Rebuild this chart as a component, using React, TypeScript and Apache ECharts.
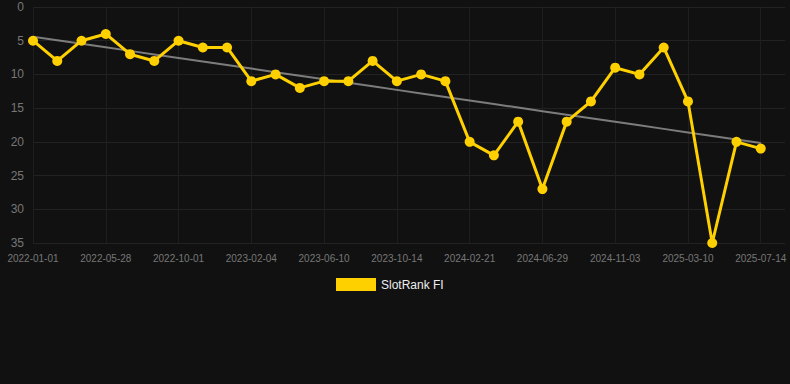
import React, { useEffect, useRef } from "react";
import * as echarts from "echarts";

const dates: string[] = [
  "2022-01-01", "2022-02-19", "2022-04-09", "2022-05-28", "2022-07-09", "2022-08-20",
  "2022-10-01", "2022-11-12", "2022-12-24", "2023-02-04", "2023-03-18", "2023-04-29",
  "2023-06-10", "2023-07-22", "2023-09-02", "2023-10-14", "2023-11-25", "2024-01-08",
  "2024-02-21", "2024-04-03", "2024-05-16", "2024-06-29", "2024-08-11", "2024-09-22",
  "2024-11-03", "2024-12-15", "2025-01-27", "2025-03-10", "2025-04-21", "2025-06-02",
  "2025-07-14",
];

const ranks: number[] = [
  5, 8, 5, 4, 7, 8, 5, 6, 6, 11, 10, 12, 11, 11, 8, 11, 10, 11, 20, 22, 17, 27, 17, 14,
  9, 10, 6, 14, 35, 20, 21,
];

const seriesName = "SlotRank FI";

function trend(values: number[]): number[] {
  const n = values.length;
  const mx = (n - 1) / 2;
  const my = values.reduce((a, b) => a + b, 0) / n;
  let sxy = 0;
  let sxx = 0;
  values.forEach((v, i) => {
    sxy += (i - mx) * (v - my);
    sxx += (i - mx) * (i - mx);
  });
  const slope = sxy / sxx;
  const b = my - slope * mx;
  return values.map((_, i) => +(b + slope * i).toFixed(3));
}

export default function App() {
  const ref = useRef<HTMLDivElement>(null);
  useEffect(() => {
    document.body.style.margin = "0";
    document.body.style.background = "#111111";
    if (!ref.current) return;
    const chart = echarts.init(ref.current, undefined, { renderer: "svg" });
    chart.setOption({
      animation: false,
      backgroundColor: "#111111",
      grid: { left: 33, right: 5, top: 7, bottom: 141, containLabel: false },
      legend: {
        data: [seriesName],
        left: 331,
        top: 273,
        icon: "rect",
        itemWidth: 40,
        itemHeight: 13,
        itemGap: 10,
        textStyle: { color: "#eeeeee", fontSize: 12, fontFamily: "Arial, Liberation Sans, sans-serif" },
      },
      xAxis: {
        type: "category",
        data: dates,
        boundaryGap: false,
        max: 31,
        axisLine: { show: false },
        axisTick: { show: false },
        axisLabel: {
          interval: 2,
          color: "#777777",
          fontSize: 10,
          margin: 10,
          fontFamily: "Arial, Liberation Sans, sans-serif",
        },
        splitLine: { show: true, interval: 2, lineStyle: { color: "#1e1e1e", width: 1 } },
      },
      yAxis: {
        type: "value",
        inverse: true,
        min: 0,
        max: 35,
        interval: 5,
        axisLine: { show: false },
        axisTick: { show: false },
        axisLabel: {
          color: "#777777",
          fontSize: 12,
          margin: 9,
          fontFamily: "Arial, Liberation Sans, sans-serif",
        },
        splitLine: { show: true, lineStyle: { color: "#222222", width: 1 } },
      },
      series: [
        {
          name: "trend",
          type: "line",
          data: trend(ranks),
          showSymbol: false,
          symbol: "none",
          lineStyle: { color: "rgba(160,160,160,0.75)", width: 2 },
          z: 1,
          silent: true,
        },
        {
          name: seriesName,
          type: "line",
          data: ranks,
          symbol: "circle",
          symbolSize: 10,
          lineStyle: { color: "#ffd000", width: 3 },
          itemStyle: { color: "#ffd000" },
          z: 2,
        },
      ],
    });
    return () => chart.dispose();
  }, []);
  return <div ref={ref} style={{ width: 790, height: 384 }} />;
}
